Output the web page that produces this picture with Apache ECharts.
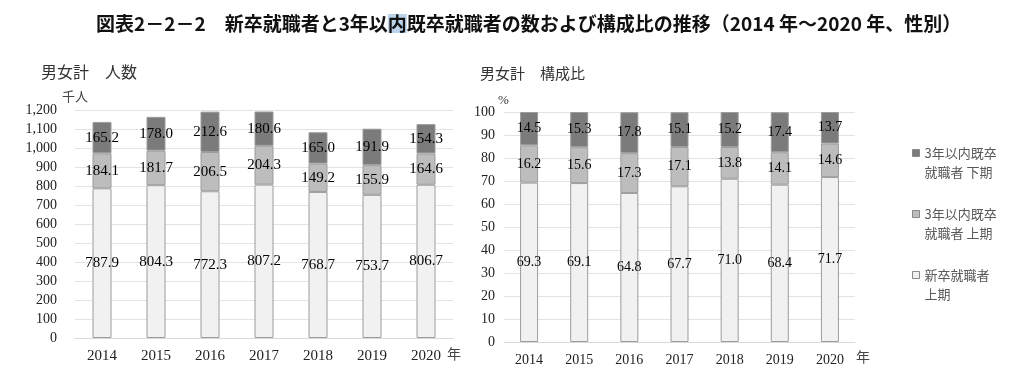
<!DOCTYPE html>
<html>
<head>
<meta charset="utf-8">
<script src="https://cdn.jsdelivr.net/npm/echarts@6/dist/echarts.min.js"></script>
<style>
html,body{margin:0;padding:0;background:#fff;}
#c{width:1024px;height:385px;}
</style>
</head>
<body>
<div id="c"></div>
<script>
var years = ['2014','2015','2016','2017','2018','2019','2020'];
var seriesNames = ['3年以内既卒\n就職者 下期', '3年以内既卒\n就職者 上期', '新卒就職者\n上期'];
// 人数 (千人)
var cntNew = [787.9, 804.3, 772.3, 807.2, 768.7, 753.7, 806.7];
var cntFirst = [184.1, 181.7, 206.5, 204.3, 149.2, 155.9, 164.6];
var cntSecond = [165.2, 178.0, 212.6, 180.6, 165.0, 191.9, 154.3];
// 構成比 (%)
var pctNew = [69.3, 69.1, 64.8, 67.7, 71.0, 68.4, 71.7];
var pctFirst = [16.2, 15.6, 17.3, 17.1, 13.8, 14.1, 14.6];
var pctSecond = [14.5, 15.3, 17.8, 15.1, 15.2, 17.4, 13.7];

var colors = { second: '#7b7b7b', first: '#bdbdbd', fresh: '#f1f1f1' };
var border = '#9c9c9c';
var serif = '"Liberation Serif", "DejaVu Serif", serif';
var jp = '"Noto Sans CJK JP", sans-serif';

function bar(name, data, color, axis, stack, fs, bw) {
  return {
    name: name, type: 'bar', stack: stack,
    xAxisIndex: axis, yAxisIndex: axis,
    data: data, barWidth: bw,
    itemStyle: { color: color, borderColor: border, borderWidth: 1 },
    label: { show: true, position: 'inside', color: '#000', fontFamily: serif, fontSize: fs,
      formatter: function (p) { return p.value.toFixed(1); } },
    emphasis: { disabled: true }
  };
}

var chart = echarts.init(document.getElementById('c'), null, { renderer: 'canvas' });
chart.setOption({
  animation: false,
  backgroundColor: '#fff',
  title: [
    { text: '図表2－2－2　新卒就職者と3年以{h|内}既卒就職者の数および構成比の推移（2014 年～2020 年、性別）',
      left: 91, top: 9,
      textStyle: { fontFamily: jp, fontSize: 19, fontWeight: 'bold', color: '#111',
        rich: { h: { fontFamily: jp, fontSize: 19, fontWeight: 'bold', color: '#111', backgroundColor: '#bcd4ea' } } } },
    { text: '男女計　人数', left: 36, top: 59, textStyle: { fontFamily: jp, fontSize: 16, fontWeight: 'normal', color: '#333' } },
    { text: '男女計　構成比', left: 475, top: 61, textStyle: { fontFamily: jp, fontSize: 15, fontWeight: 'normal', color: '#333' } }
  ],
  graphic: [
    { type: 'text', left: 62, top: 90, style: { text: '千人', font: '13px "Noto Sans CJK JP"', fill: '#444' } },
    { type: 'text', left: 498, top: 94, style: { text: '%', font: '13px "Liberation Serif"', fill: '#333' } },
    { type: 'text', left: 447, top: 347, style: { text: '年', font: '14px "Noto Sans CJK JP"', fill: '#444' } },
    { type: 'text', left: 856, top: 350, style: { text: '年', font: '14px "Noto Sans CJK JP"', fill: '#444' } }
  ],
  legend: {
    orient: 'vertical', left: 907, top: 138,
    data: seriesNames,
    icon: 'path://M0,6L7,6L7,13L0,13Z M0,0 M0,38',
    itemWidth: 7, itemHeight: 38, itemGap: 22,
    selectedMode: false,
    itemStyle: { borderColor: '#888', borderWidth: 1 },
    textStyle: { fontFamily: jp, fontSize: 13, color: '#595959', lineHeight: 19 }
  },
  grid: [
    { left: 75, top: 110, width: 378, height: 228 },
    { left: 504, top: 112, width: 351, height: 230 }
  ],
  xAxis: [
    { type: 'category', gridIndex: 0, data: years,
      axisLine: { lineStyle: { color: '#d9d9d9' } }, axisTick: { show: false },
      axisLabel: { fontFamily: serif, fontSize: 15, color: '#222', margin: 11 } },
    { type: 'category', gridIndex: 1, data: years,
      axisLine: { lineStyle: { color: '#d9d9d9' } }, axisTick: { show: false },
      axisLabel: { fontFamily: serif, fontSize: 14, color: '#222', margin: 11 } }
  ],
  yAxis: [
    { type: 'value', gridIndex: 0, min: 0, max: 1200, interval: 100,
      axisLine: { show: false }, axisTick: { show: false },
      splitLine: { lineStyle: { color: '#e3e3e3' } },
      axisLabel: { fontFamily: serif, fontSize: 14, color: '#222', margin: 18,
        formatter: function (v) { return v.toLocaleString('en-US'); } } },
    { type: 'value', gridIndex: 1, min: 0, max: 100, interval: 10,
      axisLine: { show: false }, axisTick: { show: false },
      splitLine: { lineStyle: { color: '#e3e3e3' } },
      axisLabel: { fontFamily: serif, fontSize: 14, color: '#222', margin: 9 } }
  ],
  series: [
    bar(seriesNames[2], cntNew, colors.fresh, 0, 'a', 15, 19),
    bar(seriesNames[1], cntFirst, colors.first, 0, 'a', 15, 19),
    bar(seriesNames[0], cntSecond, colors.second, 0, 'a', 15, 19),
    bar(seriesNames[2], pctNew, colors.fresh, 1, 'b', 14, 18),
    bar(seriesNames[1], pctFirst, colors.first, 1, 'b', 14, 18),
    bar(seriesNames[0], pctSecond, colors.second, 1, 'b', 14, 18)
  ]
});
</script>
</body>
</html>
